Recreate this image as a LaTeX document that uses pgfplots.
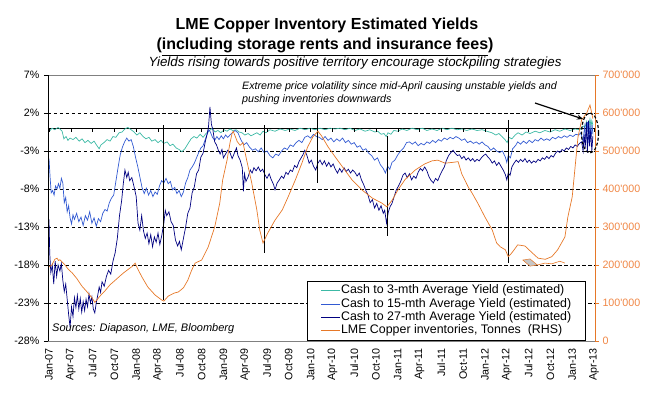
\documentclass[border=0pt]{standalone}
\usepackage{pgfplots}
\pgfplotsset{compat=1.18}
\usepackage{fontspec}
\setmainfont{Liberation Sans}
\usetikzlibrary{arrows.meta}
\definecolor{cthree}{RGB}{60,185,165}
\definecolor{cfifteen}{RGB}{50,90,210}
\definecolor{ctwenty}{RGB}{0,0,128}
\definecolor{cinv}{RGB}{230,120,40}
\definecolor{cinvlab}{RGB}{240,135,70}
\begin{document}
\begin{tikzpicture}[x=1pt,y=1pt]
\useasboundingbox (0,0) rectangle (645,397);
% titles
\node[font=\fontsize{16}{16}\selectfont\bfseries, anchor=base] at (327,367) {LME Copper Inventory Estimated Yields};
\node[font=\fontsize{16}{16}\selectfont\bfseries, anchor=base] at (325,347) {(\underline{including storage rents and insurance fees})};
\node[font=\fontsize{13.3}{14}\selectfont\itshape, anchor=base] at (355,330) {Yields rising towards positive territory encourage stockpiling strategies};

\begin{axis}[name=ax1, at={(48pt,56pt)}, anchor=south west, scale only axis,
 width=547pt, height=266pt,
 xmin=-0.14, xmax=75.14, ymin=-28, ymax=7,
 axis line style={draw=gray, line width=0.6pt},
 xtick={0,3,...,75},
 xticklabels={Jan-07,Apr-07,Jul-07,Oct-07,Jan-08,Apr-08,Jul-08,Oct-08,Jan-09,Apr-09,Jul-09,Oct-09,Jan-10,Apr-10,Jul-10,Oct-10,Jan-11,Apr-11,Jul-11,Oct-11,Jan-12,Apr-12,Jul-12,Oct-12,Jan-13,Apr-13},
 xticklabel style={rotate=90, anchor=east, font=\fontsize{10.7}{12}\selectfont, inner sep=3pt},
 x tick style={draw=none},
 ytick={-23,-18,-13,-8,-3,2},
 yticklabels={-23\%,-18\%,-13\%,-8\%,-3\%,2\%},
 extra y ticks={-28,7}, extra y tick labels={-28\%,7\%},
 extra y tick style={grid=none},
 yticklabel style={font=\fontsize{10.7}{12}\selectfont, inner sep=4.5pt},
 ymajorgrids, grid style={black, dash pattern=on 3.5pt off 2.5pt, line width=0.6pt},
 y tick style={black, line width=0.6pt}, ytick pos=left, tick align=outside,
 major tick length=4pt,
]
% zero line with ticks
\addplot[black, line width=0.7pt, forget plot] coordinates {(-0.14,0) (75.14,0)};
\addplot[only marks, mark=|, mark size=2pt, mark options={black, line width=0.6pt, yshift=-2pt}, forget plot] coordinates {(0,0)(3,0)(6,0)(9,0)(12,0)(15,0)(18,0)(21,0)(24,0)(27,0)(30,0)(33,0)(36,0)(39,0)(42,0)(45,0)(48,0)(51,0)(54,0)(57,0)(60,0)(63,0)(66,0)(69,0)(72,0)(75,0)};
% Cash to 3-mth
\addplot[cthree, line width=0.7pt] coordinates {(0,-0.1)(0.15,-0.3)(0.4,0.0)(0.8,-0.2)(1.25,0.1)(1.5,-0.1)(1.8,-0.4)(2.05,-1.4)(2.35,-1.1)(2.6,-1.6)(2.9,-1.3)(3.3,-1.5)(3.7,-1.2)(4.15,-1.7)(4.55,-1.4)(4.95,-1.9)(5.35,-1.6)(5.8,-2.0)(6.2,-1.7)(6.6,-2.3)(6.9,-2.7)(7.15,-2.2)(7.55,-1.9)(8.0,-1.5)(8.4,-1.7)(8.8,-1.1)(9.2,-1.2)(9.65,-0.6)(10.05,-0.5)(10.45,-0.1)(10.85,0.1)(11.3,-0.2)(11.7,-0.5)(12.1,-0.9)(12.5,-0.6)(12.95,-1.1)(13.35,-1.4)(13.75,-1.2)(14.15,-1.7)(14.6,-1.5)(15.0,-1.9)(15.4,-1.6)(15.8,-2.0)(16.25,-1.8)(16.65,-2.3)(17.05,-2.1)(17.5,-2.6)(17.9,-2.8)(18.3,-3.1)(18.7,-2.7)(19.15,-2.0)(19.55,-1.4)(19.95,-1.1)(20.35,-1.3)(20.8,-0.8)(21.2,-1.2)(21.6,-0.7)(22.0,-0.4)(22.45,0.0)(22.85,-0.5)(23.25,-0.3)(23.65,-0.6)(24.1,-0.2)(24.5,-0.4)(24.9,-0.1)(25.3,-0.3)(25.75,-0.2)(26.15,-0.5)(26.55,-0.6)(26.95,-0.9)(27.4,-0.7)(27.8,-1.0)(28.2,-0.8)(28.6,-0.6)(29.05,-0.9)(29.45,-0.4)(29.85,-0.6)(30.4,-0.2)(31.1,-0.4)(31.8,-0.1)(32.5,-0.3)(33.15,-0.1)(33.85,-0.3)(34.55,0.0)(35.25,-0.2)(35.9,0.0)(36.6,-0.2)(37.3,0.0)(38.0,-0.2)(38.65,0.0)(39.35,-0.1)(40.05,0.0)(40.75,-0.2)(41.4,0.0)(42.1,-0.3)(42.8,-0.1)(43.5,-0.4)(44.15,-0.2)(44.85,-0.5)(45.25,-0.4)(45.7,-0.8)(46.1,-0.7)(46.4,-1.1)(46.65,-0.6)(47.05,-0.8)(47.45,-0.3)(48.0,-0.4)(48.6,-0.1)(49.25,-0.3)(49.95,0.0)(50.65,-0.2)(51.35,0.0)(52.0,-0.3)(52.7,-0.1)(53.4,-0.3)(54.1,0.0)(54.75,-0.2)(55.45,0.0)(56.15,-0.2)(56.85,-0.1)(57.5,-0.3)(58.2,-0.1)(58.9,-0.3)(59.6,-0.2)(60.25,-0.4)(60.95,-0.6)(61.5,-0.9)(61.9,-0.7)(62.35,-1.1)(62.75,-1.5)(63.05,-1.9)(63.3,-1.2)(63.7,-1.4)(64.15,-0.9)(64.55,-0.6)(65.1,-0.9)(65.65,-0.5)(66.2,-0.7)(66.9,-0.4)(67.55,-0.6)(68.25,-0.3)(68.95,-0.5)(69.65,-0.2)(70.3,-0.4)(71.0,-0.1)(71.7,-0.3)(72.4,-0.1)(73.05,-0.2)(73.5,0.3)(73.75,0.1)(74.0,0.9)(74.2,-0.3)(74.45,1.2)(74.6,0.2)(74.7,1.0)(74.85,0.4)};
% Cash to 15-mth
\addplot[cfifteen, line width=0.7pt] coordinates {(0,-4.0)(0.15,-6.5)(0.3,-8.5)(0.5,-8.2)(0.7,-8.8)(0.9,-7.6)(1.1,-8.0)(1.3,-7.3)(1.5,-7.9)(1.7,-6.6)(1.9,-7.2)(2.1,-9.8)(2.3,-9.1)(2.5,-11.0)(2.7,-10.2)(2.9,-11.8)(3.1,-12.6)(3.3,-11.4)(3.5,-12.0)(3.8,-11.2)(4.1,-12.3)(4.4,-11.7)(4.7,-12.8)(5.0,-11.5)(5.3,-12.1)(5.6,-11.0)(5.9,-12.5)(6.2,-11.8)(6.5,-12.9)(6.8,-11.9)(7.1,-12.3)(7.4,-11.2)(7.7,-10.7)(8.0,-10.9)(8.3,-9.8)(8.6,-9.2)(8.9,-8.8)(9.2,-7.0)(9.5,-5.2)(9.8,-3.5)(10.1,-2.5)(10.4,-1.8)(10.7,-1.3)(11.0,-1.7)(11.3,-1.5)(11.6,-2.4)(11.9,-3.8)(12.2,-5.0)(12.5,-6.4)(12.8,-7.8)(13.1,-8.6)(13.4,-7.9)(13.7,-8.8)(14.0,-8.2)(14.3,-9.0)(14.6,-8.4)(14.9,-8.7)(15.2,-7.6)(15.5,-6.9)(15.8,-7.2)(16.1,-6.6)(16.4,-7.3)(16.7,-7.0)(17.0,-8.1)(17.3,-7.8)(17.6,-8.6)(17.9,-8.2)(18.2,-9.0)(18.5,-8.4)(18.8,-7.2)(19.1,-6.5)(19.4,-5.5)(19.7,-5.1)(20.0,-4.6)(20.3,-3.9)(20.6,-3.2)(20.9,-2.6)(21.2,-2.3)(21.5,-1.5)(21.8,-0.7)(22.0,-0.2)(22.2,-0.5)(22.5,-1.2)(22.8,-1.6)(23.1,-1.1)(23.4,-1.5)(23.7,-1.0)(24.0,-1.4)(24.3,-0.9)(24.6,-1.2)(25.0,-0.8)(25.6,-0.3)(26.0,-0.6)(26.4,-1.5)(26.8,-2.2)(27.2,-1.9)(27.6,-2.5)(28.0,-2.9)(28.4,-2.7)(28.8,-3.1)(29.2,-2.6)(29.6,-3.2)(30.0,-3.0)(30.4,-3.6)(30.8,-3.9)(31.2,-3.4)(31.6,-3.6)(32.0,-3.0)(32.4,-2.6)(32.8,-2.8)(33.2,-2.2)(33.6,-2.4)(34.0,-1.9)(34.4,-1.6)(34.8,-1.9)(35.2,-1.2)(35.6,-1.0)(36.0,-1.3)(36.4,-0.8)(36.8,-1.1)(37.2,-1.2)(37.6,-1.5)(38.0,-1.1)(38.4,-1.6)(38.8,-1.3)(39.2,-1.8)(39.6,-1.4)(40.0,-1.7)(40.4,-1.3)(40.8,-1.9)(41.2,-1.6)(41.6,-2.1)(42.0,-1.9)(42.4,-2.5)(42.8,-2.3)(43.2,-2.9)(43.6,-2.7)(44.0,-3.3)(44.4,-3.6)(44.8,-4.2)(45.2,-3.9)(45.6,-4.8)(46.0,-5.3)(46.3,-5.9)(46.6,-5.0)(46.9,-5.4)(47.2,-4.5)(47.6,-4.2)(48.0,-3.5)(48.4,-3.0)(48.8,-2.6)(49.2,-1.9)(49.6,-1.8)(50.0,-2.1)(50.4,-1.8)(50.8,-2.3)(51.2,-2.0)(51.6,-2.2)(52.0,-1.8)(52.4,-2.0)(52.8,-1.6)(53.2,-1.9)(53.6,-1.5)(54.0,-1.7)(54.4,-1.3)(54.8,-1.5)(55.2,-1.2)(55.6,-1.4)(56.0,-1.1)(56.4,-1.3)(56.8,-1.6)(57.2,-1.4)(57.6,-1.9)(58.0,-1.7)(58.4,-2.0)(58.8,-1.8)(59.2,-2.1)(59.6,-1.8)(60.0,-2.2)(60.4,-2.4)(60.8,-2.9)(61.2,-2.6)(61.6,-3.0)(62.0,-3.2)(62.4,-3.0)(62.8,-3.8)(63.0,-4.5)(63.2,-3.6)(63.5,-3.9)(63.8,-2.7)(64.2,-2.3)(64.5,-1.8)(64.9,-2.1)(65.3,-1.7)(65.7,-2.0)(66.1,-1.6)(66.5,-1.9)(66.9,-1.5)(67.3,-1.7)(67.7,-1.3)(68.1,-1.6)(68.5,-1.4)(68.9,-1.6)(69.3,-1.2)(69.7,-1.4)(70.1,-1.1)(70.5,-1.3)(70.9,-1.0)(71.3,-1.2)(71.7,-0.9)(72.1,-1.1)(72.5,-0.8)(72.9,-0.9)(73.2,-0.6)(73.5,-1.8)(73.7,0.2)(73.9,-1.5)(74.1,0.8)(74.3,-2.0)(74.45,0.6)(74.6,-1.2)(74.75,0.4)(74.85,-0.8)};
% Cash to 27-mth
\addplot[ctwenty, line width=0.7pt] coordinates {(0,-12.0)(0.1,-16.5)(0.25,-19.0)(0.45,-18.0)(0.65,-20.5)(0.85,-17.5)(1.05,-19.5)(1.25,-18.0)(1.5,-18.8)(1.7,-17.8)(1.9,-20.0)(2.1,-21.5)(2.3,-20.5)(2.5,-22.5)(2.7,-24.5)(2.9,-26.2)(3.1,-23.5)(3.3,-24.8)(3.5,-22.3)(3.7,-23.6)(3.9,-22.0)(4.1,-23.8)(4.3,-22.4)(4.5,-24.2)(4.7,-22.8)(4.9,-24.0)(5.1,-22.5)(5.3,-23.5)(5.5,-21.8)(5.7,-23.0)(5.9,-22.2)(6.1,-23.8)(6.3,-24.3)(6.5,-23.0)(6.7,-22.0)(6.9,-20.9)(7.1,-21.6)(7.3,-20.2)(7.6,-20.8)(7.9,-19.5)(8.2,-18.7)(8.5,-19.2)(8.8,-17.5)(9.1,-16.4)(9.4,-14.5)(9.7,-11.5)(10.0,-9.5)(10.2,-7.5)(10.45,-5.5)(10.7,-6.5)(10.9,-5.8)(11.1,-6.9)(11.4,-6.5)(11.7,-7.7)(12.0,-9.0)(12.25,-12.5)(12.5,-13.4)(12.75,-11.5)(13.0,-13.5)(13.25,-14.5)(13.5,-13.8)(13.75,-15.2)(14.0,-14.0)(14.25,-15.6)(14.5,-14.3)(14.75,-15.0)(15.0,-13.8)(15.25,-15.3)(15.5,-14.2)(15.8,-12.5)(16.0,-10.8)(16.2,-11.5)(16.5,-11.0)(16.8,-12.3)(17.1,-12.8)(17.4,-14.7)(17.7,-15.5)(17.95,-14.9)(18.2,-16.0)(18.5,-14.5)(18.8,-13.0)(19.1,-11.2)(19.4,-10.5)(19.7,-8.5)(20.0,-7.7)(20.3,-6.0)(20.6,-5.5)(20.9,-3.8)(21.2,-3.3)(21.5,-1.8)(21.75,-0.8)(21.95,0.2)(22.15,2.8)(22.35,0.5)(22.55,-0.2)(22.8,-1.8)(23.05,-2.2)(23.3,-2.9)(23.55,-3.4)(23.8,-2.8)(24.0,-3.9)(24.3,-3.4)(24.6,-2.9)(24.9,-3.2)(25.2,-4.0)(25.5,-3.3)(25.8,-2.6)(26.0,-3.6)(26.3,-4.2)(26.6,-5.2)(26.75,-8.3)(26.9,-6.0)(27.1,-7.0)(27.4,-6.4)(27.7,-5.5)(27.95,-5.9)(28.2,-5.2)(28.5,-5.6)(28.8,-5.1)(29.1,-5.7)(29.4,-5.4)(29.7,-6.1)(30.0,-6.6)(30.3,-6.0)(30.6,-6.8)(30.9,-7.4)(31.1,-8.1)(31.4,-7.2)(31.7,-6.8)(32.0,-6.3)(32.3,-6.6)(32.6,-5.8)(32.9,-6.1)(33.2,-5.5)(33.5,-5.7)(33.8,-4.9)(34.1,-5.2)(34.4,-4.4)(34.7,-3.9)(35.0,-3.4)(35.2,-2.9)(35.5,-3.6)(35.8,-4.6)(36.1,-4.2)(36.4,-5.0)(36.7,-5.5)(37.0,-4.6)(37.3,-4.2)(37.6,-4.8)(37.9,-4.3)(38.2,-5.0)(38.5,-4.5)(38.8,-5.1)(39.1,-4.7)(39.4,-5.4)(39.7,-5.9)(40.0,-5.3)(40.3,-5.8)(40.6,-5.2)(40.9,-5.7)(41.2,-5.4)(41.5,-5.9)(41.8,-5.5)(42.1,-5.8)(42.4,-6.3)(42.7,-5.9)(43.0,-6.8)(43.3,-7.4)(43.6,-8.2)(43.9,-8.8)(44.2,-9.8)(44.5,-9.4)(44.8,-10.5)(45.1,-9.9)(45.4,-10.8)(45.7,-10.2)(46.0,-11.2)(46.2,-10.8)(46.45,-12.5)(46.7,-11.0)(46.95,-10.3)(47.2,-9.9)(47.5,-9.0)(47.8,-8.1)(48.1,-7.6)(48.4,-7.0)(48.7,-6.2)(49.0,-5.9)(49.3,-6.5)(49.6,-6.0)(49.9,-6.8)(50.2,-6.3)(50.5,-6.6)(50.8,-5.8)(51.1,-5.3)(51.4,-5.6)(51.7,-5.1)(52.0,-5.6)(52.3,-6.4)(52.6,-6.9)(52.9,-7.2)(53.2,-6.6)(53.5,-6.9)(53.8,-6.2)(54.1,-5.6)(54.4,-5.1)(54.7,-4.2)(55.0,-3.6)(55.3,-3.2)(55.6,-2.9)(55.9,-3.3)(56.2,-3.6)(56.5,-3.5)(56.8,-4.0)(57.1,-3.7)(57.4,-4.2)(57.7,-3.9)(58.0,-4.3)(58.3,-4.0)(58.6,-4.4)(58.9,-4.1)(59.2,-4.3)(59.5,-3.9)(59.8,-3.6)(60.1,-3.4)(60.4,-3.8)(60.7,-4.1)(61.0,-4.6)(61.3,-4.3)(61.6,-4.9)(61.9,-4.5)(62.2,-5.0)(62.5,-5.5)(62.8,-6.1)(63.0,-6.8)(63.2,-5.9)(63.45,-6.2)(63.7,-5.1)(64.0,-4.6)(64.3,-4.2)(64.6,-4.5)(64.9,-4.1)(65.2,-4.4)(65.5,-4.0)(65.8,-4.5)(66.1,-4.2)(66.4,-4.6)(66.7,-4.3)(67.0,-4.5)(67.3,-4.1)(67.6,-4.3)(67.9,-3.9)(68.2,-4.1)(68.5,-3.7)(68.8,-4.0)(69.1,-3.6)(69.4,-3.8)(69.7,-3.3)(70.0,-3.0)(70.3,-3.2)(70.6,-2.8)(70.9,-3.0)(71.2,-2.6)(71.5,-2.8)(71.8,-2.4)(72.1,-2.6)(72.4,-2.2)(72.7,-2.4)(73.0,-2.0)(73.3,-1.8)(73.5,-3.0)(73.65,-0.8)(73.8,-2.6)(73.95,0.8)(74.1,-3.2)(74.25,1.0)(74.4,-2.4)(74.55,-0.2)(74.7,-3.0)(74.85,-1.0)};
% one-day spikes
\addplot[black, line width=0.8pt, forget plot] coordinates {(15.7,0.4)(15.7,-22.6)};
\addplot[black, line width=0.8pt, forget plot] coordinates {(29.6,0.4)(29.6,-16.4)};
\addplot[black, line width=0.8pt, forget plot] coordinates {(37.0,2.0)(37.0,-7.2)};
\addplot[black, line width=0.8pt, forget plot] coordinates {(46.5,-1.0)(46.5,-14.2)};
\addplot[black, line width=0.8pt, forget plot] coordinates {(63.2,1.1)(63.2,-17.7)};
\end{axis}

\begin{axis}[at={(48pt,56pt)}, anchor=south west, scale only axis,
 width=547pt, height=266pt,
 xmin=-0.14, xmax=75.14, ymin=0, ymax=700000,
 axis x line=none, axis y line*=right,
 y axis line style={cinv, line width=0.7pt},
 ytick={0,100000,200000,300000,400000,500000,600000,700000},
 yticklabels={0,100\textquotesingle000,200\textquotesingle000,300\textquotesingle000,400\textquotesingle000,500\textquotesingle000,600\textquotesingle000,700\textquotesingle000},
 yticklabel style={cinvlab, font=\fontsize{10.7}{12}\selectfont},
 y tick style={cinv, line width=0.6pt}, tick align=outside, major tick length=4pt,
 scaled y ticks=false,
 legend cell align=left,
 legend image code/.code={\draw[#1] (0pt,0pt) -- (19pt,0pt);},
 legend style={at={(0.982,0.2256)}, anchor=north east, draw=black, line width=0.6pt,
   fill=white, font=\fontsize{12.4}{12.4}\selectfont, inner xsep=13pt, inner ysep=3pt,
   row sep=0.8pt, nodes={inner sep=0.6pt, text height=8.8pt, text depth=2.6pt}},
]
\addlegendimage{cthree, line width=0.7pt}
\addlegendentry{Cash to 3-mth Average Yield (estimated)}
\addlegendimage{cfifteen, line width=0.7pt}
\addlegendentry{Cash to 15-mth Average Yield (estimated)}
\addlegendimage{ctwenty, line width=0.7pt}
\addlegendentry{Cash to 27-mth Average Yield (estimated)}
\addplot[cinv, line width=0.7pt] coordinates {(0,195000)(0.4,200000)(0.8,215000)(1.1,218000)(1.3,212000)(1.5,214000)(1.8,208000)(2.2,200000)(2.6,190000)(3.2,179000)(3.8,165000)(4.5,145000)(5.2,130000)(5.9,114000)(6.3,102000)(6.6,108000)(7.0,118000)(7.7,132000)(8.4,148000)(9.0,158000)(9.7,170000)(10.3,180000)(11.0,190000)(11.5,197000)(11.85,205000)(12.2,190000)(12.8,168000)(13.6,142000)(14.6,121000)(15.5,108000)(15.8,105000)(16.4,118000)(17.2,126000)(17.8,129000)(18.5,140000)(19.1,160000)(19.6,185000)(20.1,205000)(21.0,213000)(21.9,247000)(22.8,300000)(23.5,363000)(23.9,424000)(24.5,476000)(24.9,521000)(25.2,547000)(25.35,552000)(25.7,535000)(25.9,525000)(26.3,515000)(26.7,522000)(27.2,476000)(27.9,416000)(28.6,345000)(29.0,292000)(29.45,258000)(30.1,284000)(31.1,318000)(32.1,345000)(32.9,379000)(33.9,424000)(34.8,468000)(35.6,511000)(36.3,537000)(37.0,552000)(37.5,540000)(38.4,511000)(39.4,484000)(40.7,450000)(41.7,424000)(43.1,397000)(44.5,376000)(45.8,363000)(46.5,353000)(47.2,370000)(48.0,397000)(49.0,425000)(50.4,450000)(51.7,466000)(52.7,474000)(53.5,476000)(54.5,468000)(55.5,470000)(56.3,472000)(56.8,440000)(57.7,405000)(58.2,390000)(59.0,363000)(60.0,326000)(61.0,292000)(61.6,258000)(62.1,248000)(62.8,240000)(63.2,222000)(63.7,232000)(64.5,253000)(65.5,250000)(66.5,232000)(67.3,218000)(68.3,215000)(69.2,222000)(70.0,240000)(71.0,274000)(71.4,326000)(72.0,379000)(72.4,458000)(72.8,537000)(73.3,582000)(74.0,600000)(74.45,621000)(74.85,585000)};
\addlegendentry{LME Copper inventories, Tonnes\ \ (RHS)}
% small shaded artefact
\addplot[fill=gray!45, draw=cinv, line width=0.5pt, forget plot] coordinates {(65.2,213000)(66.2,216000)(67.2,200000)(66.2,197000)} -- cycle;
\addplot[cinv, line width=0.6pt, forget plot] coordinates {(67.2,200000)(68.25,205000)(69.2,203000)(70.3,210000)(71.0,205000)};
\end{axis}

% left axis line
\draw[black, line width=0.7pt] (48,56) -- (48,322);
% annotations
\node[font=\fontsize{10.7}{12}\selectfont\itshape, anchor=base west, inner sep=0pt] at (242,307) {Extreme price volatility since mid-April causing unstable yields and};
\node[font=\fontsize{10.7}{12}\selectfont\itshape, anchor=base west, inner sep=0pt] at (242,294) {pushing inventories downwards};
\draw[black, line width=1.2pt, -{Stealth[length=6pt,width=5pt]}] (535,294) -- (583,278);
\draw[black, line width=1.2pt, dash pattern=on 3pt off 2pt] (590,264) ellipse [x radius=8.5, y radius=20];
\node[font=\fontsize{11}{12}\selectfont\itshape, anchor=base west, inner sep=0pt] at (52,66) {Sources: Diapason, LME, Bloomberg};
\end{tikzpicture}
\end{document}
